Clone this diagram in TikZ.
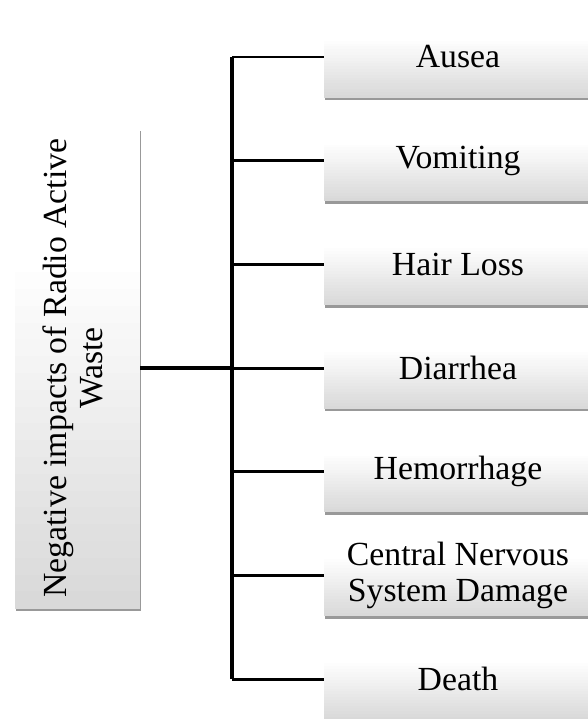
\documentclass[tikz,border=0pt]{standalone}
\usepackage{fontspec}
\setmainfont{Liberation Serif}
\usepackage{graphicx}
\usetikzlibrary{positioning, calc, shadows}

\begin{document}
\begin{tikzpicture}[
    effbox/.style={fill=white,
        path picture={\foreach \i [evaluate=\i as \c using 15*\i/20] in {1,...,20}
            \fill[black!\c]
            ($(path picture bounding box.north west)!{0.3+0.035*(\i-1)}!(path picture bounding box.south west)$)
            rectangle ($(path picture bounding box.north east)!{0.3+0.035*\i+0.002}!(path picture bounding box.south east)$);},
        minimum width=6.7cm, minimum height=2.025cm, inner sep=0pt, align=center,
        font=\fontsize{24}{25.5}\selectfont,
        drop shadow={shadow xshift=0.5pt, shadow yshift=-2pt, fill=black, opacity=0.4}},
    rootbox/.style={effbox, minimum width=3.125cm, minimum height=12cm},
    trunk/.style={line width=3pt},
    branch/.style={line width=2pt}
]

% Rahmen
\clip (0,0) rectangle (14.7,-17.975);

% Wurzel (links)
\node[rootbox] (root) at (1.9375, -9.2025) {\rotatebox{90}{\begin{tabular}{@{}c@{}}Negative impacts of Radio Active\\Waste\end{tabular}}};

% Folgen (rechts)
\node[effbox] (eff1) at (11.45, -1.425) {Ausea};
\node[effbox] (eff2) at (11.45, -4.0175) {Vomiting};
\node[effbox] (eff3) at (11.45, -6.61) {Hair Loss};
\node[effbox] (eff4) at (11.45, -9.2025) {Diarrhea};
\node[effbox] (eff5) at (11.45, -11.795) {Hemorrhage};
\node[effbox] (eff6) at (11.45, -14.3875) {Central Nervous\\System Damage};
\node[effbox] (eff7) at (11.45, -16.98) {Death};

% Verbindungen
\coordinate (hub) at (5.8, -9.2025);
\draw[trunk] (root.east) -- (hub);
\draw[trunk] (hub |- eff1.west) -- (hub |- eff7.west);
\draw[branch] (hub |- eff1.west) -- (eff1.west);
\draw[branch] (hub |- eff2.west) -- (eff2.west);
\draw[branch] (hub |- eff3.west) -- (eff3.west);
\draw[branch] (hub) -- (eff4.west);
\draw[branch] (hub |- eff5.west) -- (eff5.west);
\draw[branch] (hub |- eff6.west) -- (eff6.west);
\draw[branch] (hub |- eff7.west) -- (eff7.west);

\end{tikzpicture}
\end{document}
